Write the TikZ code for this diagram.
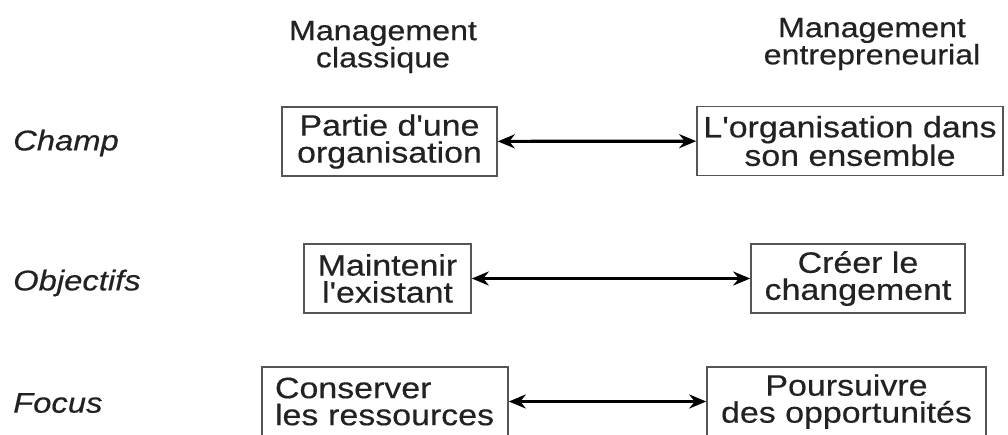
\documentclass[tikz,border=0pt]{standalone}
\usepackage{fontspec}
\setmainfont{Liberation Sans}[FakeStretch=1.15,FakeBold=0.4,Ligatures=TeXOff]
\usetikzlibrary{arrows.meta}
\definecolor{txtc}{HTML}{222222}
\definecolor{boxc}{HTML}{555555}
\begin{document}
\begin{tikzpicture}[x=1pt,y=-1pt,
  hdr/.style={text=txtc, font=\fontsize{28}{25}\selectfont, align=center, inner sep=0pt},
  box/.style={draw=boxc, line width=1.6pt, minimum height=69pt, inner sep=0pt, text=txtc,
    font=\fontsize{29.5}{27}\selectfont, align=center},
  lbl/.style={font=\fontsize{28.5}{30}\selectfont\itshape, anchor=west, inner sep=0pt, text=txtc},
  link/.style={line width=3.2pt, {Stealth[length=17pt,width=14pt]}-{Stealth[length=17pt,width=14pt]}}]
\clip (0,0) rectangle (1008,434);
\fill[white] (0,0) rectangle (1008,434);
% headers
\node[hdr] (h1) at (383,47) {Management\\classique};
\node[hdr] (h2) at (872,44) {Management\\entrepreneurial};
% row labels
\node[lbl] (l1) at (13,143) {Champ};
\node[lbl] (l2) at (13,283) {Objectifs};
\node[lbl] (l3) at (13,403) {Focus};
% row 1
\node[box, minimum width=215pt] (a1) at (389.5,141.5) {Partie d'une\\organisation};
\node[box, minimum width=306pt] (b1) at (850,141) {L'organisation dans\\son ensemble};
% row 2
\node[box, minimum width=167pt] (a2) at (387.5,278.5) {Maintenir\\l'existant};
\node[box, minimum width=214pt] (b2) at (858,278.5) {Créer le\\changement};
% row 3
\node[box, text width=220pt, inner xsep=13pt, align=left] (a3) at (385,401.5) {Conserver\\les ressources};
\node[box, minimum width=279pt] (b3) at (846.5,401.5) {Poursuivre\\des opportunités};
% connectors
\draw[link] (a1) -- (b1);
\draw[link] (a2) -- (b2);
\draw[link] (a3) -- (b3);
\end{tikzpicture}
\end{document}
